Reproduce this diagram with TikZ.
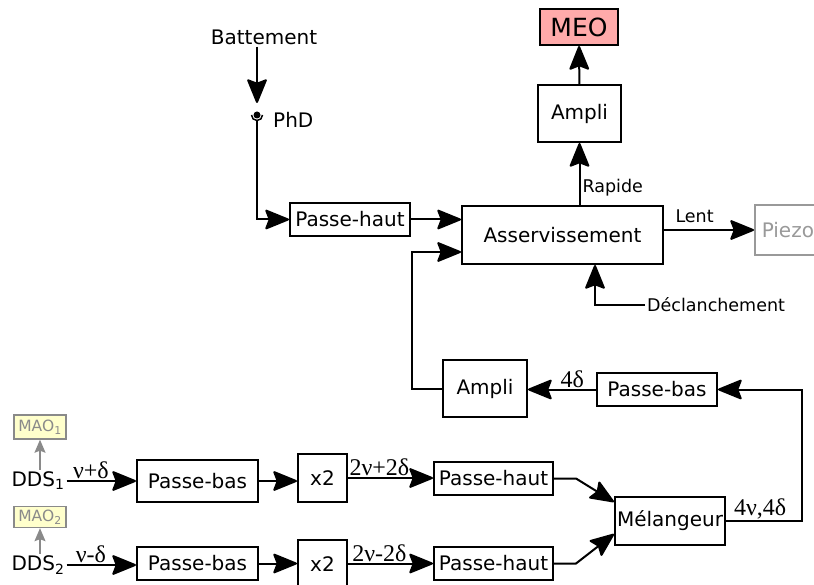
\documentclass[tikz,border=0pt]{standalone}
\usepackage{fontspec}
\setmainfont{DejaVu Sans}
\newfontfamily\grk{Liberation Serif}
\usetikzlibrary{arrows.meta}
\definecolor{rosemeo}{HTML}{FFAAAA}
\definecolor{jaunemao}{HTML}{FFFFCC}
\definecolor{grismao}{HTML}{8A8A8A}
\definecolor{grispiezo}{HTML}{999999}
\begin{document}
\begin{tikzpicture}[x=1pt,y=-1pt,
  bloc/.style={draw, line width=2pt, inner sep=0pt, font=\fontsize{20}{24}\selectfont},
  arr/.style={line width=2pt, -{Stealth[length=26pt,width=21pt,inset=4pt,round]}},
  lbl/.style={inner sep=2pt, font=\fontsize{17.5}{21}\selectfont},
  txt/.style={inner sep=2pt, font=\fontsize{20}{24}\selectfont},
  freq/.style={inner sep=1pt, font=\grk\fontsize{24}{28}\selectfont},
  maobox/.style={draw=grismao, fill=jaunemao, text=grismao, line width=1.4pt, inner sep=0pt, font=\fontsize{15.5}{18}\selectfont},
  grisarr/.style={draw=grismao, line width=1.5pt, -{Stealth[length=13pt,width=11pt,inset=2pt]}}]
\useasboundingbox (0,0) rectangle (814,585);
\clip (0,0) rectangle (814,585);
\node[txt] (batt) at (264,37) {Battement};
\coordinate (phd) at (257,115);
\node[txt, anchor=west] (phdlbl) at (271,120) {PhD};
\node[bloc, minimum width=120pt, minimum height=33pt] (ph1) at (350,219.5) {Passe-haut};
\node[bloc, minimum width=201pt, minimum height=58pt] (asserv) at (562.5,235) {Asservissement};
\node[bloc, minimum width=83pt, minimum height=57pt] (amplih) at (579.5,113.5) {Ampli};
\node[bloc, fill=rosemeo, minimum width=78pt, minimum height=36pt, font=\fontsize{25}{30}\selectfont] (meo) at (579,27) {MEO};
\node[bloc, draw=grispiezo, text=grispiezo, line width=1.5pt, anchor=west, inner xsep=7pt, minimum height=50pt] (piezo) at (754,230) {Piezo};
\node[lbl, anchor=west] (decl) at (645,305) {Déclanchement};
\node[bloc, minimum width=84pt, minimum height=57pt] (amplib) at (485,388.5) {Ampli};
\node[bloc, minimum width=120pt, minimum height=33pt] (pb3) at (657,389.5) {Passe-bas};
\node[bloc, minimum width=110pt, minimum height=48pt] (mel) at (670,521) {Mélangeur};
\node[txt] (dds1) at (38,481) {DDS\textsubscript{1}};
\node[txt] (dds2) at (38,565) {DDS\textsubscript{2}};
\node[maobox, minimum width=52pt, minimum height=24pt] (mao1) at (40,427) {MAO\textsubscript{1}};
\node[maobox, minimum width=52pt, minimum height=21pt] (mao2) at (40,517) {MAO\textsubscript{2}};
\node[bloc, minimum width=121pt, minimum height=42pt] (pb1) at (197.5,481) {Passe-bas};
\node[bloc, minimum width=49pt, minimum height=48pt] (xa) at (322.5,478) {x2};
\node[bloc, minimum width=119pt, minimum height=33pt] (ph2) at (493.5,478.5) {Passe-haut};
\node[bloc, minimum width=121pt, minimum height=33pt] (pb2) at (197.5,563.5) {Passe-bas};
\node[bloc, minimum width=49pt, minimum height=48pt] (xb) at (322.5,564) {x2};
\node[bloc, minimum width=119pt, minimum height=33pt] (ph3) at (493.5,563.5) {Passe-haut};
\coordinate (retour) at (412,252);
\coordinate (droite) at (802,522);
\draw[arr] (batt.south -| phd) -- ([yshift=12pt]phd);
\fill (phd) circle (3.5pt);
\draw[line width=1.5pt] ([xshift=-5.5pt]phd) arc[start angle=180, end angle=360, radius=5.5pt];
\draw[arr] ([yshift=-5.5pt]phd) |- (ph1.west);
\draw[arr] (ph1.east) -- (ph1.east -| asserv.west);
\draw[arr] (amplib.west) -| (retour) -- (retour -| asserv.west);
\draw[arr] (asserv.north -| amplih) -- node[lbl, right, pos=0.28] {Rapide} (amplih.south);
\draw[arr] (amplih) -- (meo);
\draw[arr] (asserv.east |- piezo.west) -- node[lbl, above=4pt, pos=0.34] {Lent} (piezo.west);
\draw[arr] (decl.west) -| ([xshift=32.5pt]asserv.south);
\draw[arr] (pb3.west) -- node[freq, above, pos=0.35] {4δ} (pb3.west -| amplib.east);
\draw[arr] (mel.east) -- node[freq, above, pos=0.45] {4ν,4δ} (mel.east -| droite) |- (pb3.east);
\draw[grisarr] (mao1 |- dds1.north) -- (mao1.south);
\draw[grisarr] (mao2 |- dds2.north) -- (mao2.south);
\draw[arr] (dds1.east) -- node[freq, above, pos=0.35] {ν+δ} (dds1.east -| pb1.west);
\draw[arr] (pb1.east) -- (pb1.east -| xa.west);
\draw[arr] (xa.east) -- node[freq, above, pos=0.37] {2ν+2δ} (xa.east -| ph2.west);
\draw[arr] (ph2.east) -- ([xshift=22pt]ph2.east) -- ([yshift=-6pt]mel.north west);
\draw[arr] (dds2.east) -- node[freq, above, pos=0.35] {ν-δ} (dds2.east -| pb2.west);
\draw[arr] (pb2.east) -- (pb2.east -| xb.west);
\draw[arr] (xb.east |- ph3.west) -- node[freq, above, pos=0.37] {2ν-2δ} (ph3.west);
\draw[arr] (ph3.east) -- ([xshift=22pt]ph3.east) -- ([yshift=12pt]mel.south west);
\end{tikzpicture}
\end{document}
